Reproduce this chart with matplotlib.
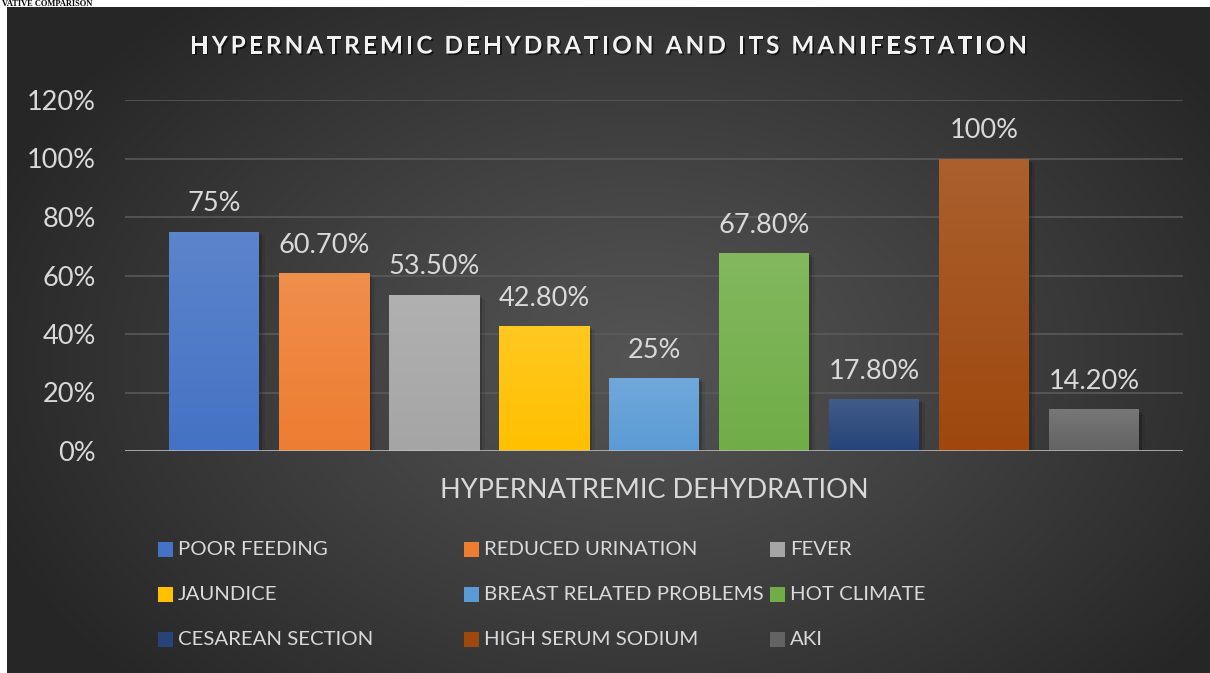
import numpy as np
import matplotlib
matplotlib.use("Agg")
import matplotlib.pyplot as plt
import matplotlib.patheffects as pe
from matplotlib.colors import to_rgb
from matplotlib.font_manager import FontProperties

# ---------------- data ----------------
categories = ["POOR FEEDING", "REDUCED URINATION", "FEVER", "JAUNDICE",
              "BREAST RELATED PROBLEMS", "HOT CLIMATE", "CESAREAN SECTION",
              "HIGH SERUM SODIUM", "AKI"]
values = [0.75, 0.607, 0.535, 0.428, 0.25, 0.678, 0.178, 1.00, 0.142]
value_labels = ["75%", "60.70%", "53.50%", "42.80%", "25%", "67.80%",
                "17.80%", "100%", "14.20%"]
colors = ["#4472C4", "#ED7D31", "#A5A5A5", "#FFC000", "#5B9BD5",
          "#70AD47", "#264478", "#9E480E", "#636363"]
y_ticks = [0, 0.2, 0.4, 0.6, 0.8, 1.0, 1.2]
y_tick_labels = ["0%", "20%", "40%", "60%", "80%", "100%", "120%"]
title = "HYPERNATREMIC DEHYDRATION AND ITS MANIFESTATION"
x_label = "HYPERNATREMIC DEHYDRATION"
top_note = "VATIVE COMPARISON"

W, H = 1210, 673
FONT = "Lato"
TXT = "#D9D9D9"

fig = plt.figure(figsize=(W / 100, H / 100), dpi=100, facecolor="white")

def fx(px):
    return px / W

def fy(py):
    return 1 - py / H

# ---------------- background panel with radial gradient ----------------
px0, py0 = 7, 7
bg = fig.add_axes([fx(px0), 0, 1 - fx(px0), fy(py0)], zorder=-10)
bw, bh = W - px0, H - py0
yy, xx = np.mgrid[0:bh, 0:bw]
cx, cy = 640 - px0, 360 - py0
r = np.sqrt(((xx - cx) / 700.0) ** 2 + ((yy - cy) / 480.0) ** 2)
r = np.clip(r, 0, 1)
c_in = np.array(to_rgb("#545454"))
c_out = np.array(to_rgb("#262626"))
img = c_in[None, None, :] + (c_out - c_in)[None, None, :] * r[..., None] ** 1.1
bg.imshow(img, aspect="auto", extent=(0, 1, 0, 1), interpolation="bilinear")
bg.set_axis_off()

# ---------------- main axes ----------------
ax_l, ax_r, ax_t, ax_b = 125, 1183, 100, 451
ax = fig.add_axes([fx(ax_l), fy(ax_b), fx(ax_r - ax_l), (ax_b - ax_t) / H])
ax.set_facecolor("none")
n = len(values)
xpos = np.arange(n)
bar_w = 90 / 110
half_span = (ax_r - ax_l) / 2 / 110

bars = ax.bar(xpos, values, width=bar_w, color=colors, zorder=3,
              path_effects=[pe.SimplePatchShadow(offset=(2.5, -1.5), shadow_rgbFace="black", alpha=0.18),
                            pe.SimplePatchShadow(offset=(4, -3), shadow_rgbFace="black", alpha=0.08),
                            pe.Normal()])

def lighten(c, f):
    c = np.array(to_rgb(c))
    return c + (1 - c) * f

for b, c, v in zip(bars, colors, values):
    top = lighten(c, 0.13)
    base = np.array(to_rgb(c))
    grad = np.linspace(0, 1, 64)[:, None, None]
    gimg = top[None, None, :] * (1 - grad) + base[None, None, :] * grad
    gimg = np.repeat(gimg, 2, axis=1)
    im = ax.imshow(gimg, extent=(b.get_x(), b.get_x() + b.get_width(), 0, v),
                   aspect="auto", zorder=3.5, interpolation="bilinear")
    im.set_clip_path(b)

ax.set_xlim((n - 1) / 2 - half_span, (n - 1) / 2 + half_span)
ax.set_ylim(0, 1.2)

for xi, v, lab in zip(xpos, values, value_labels):
    ax.annotate(lab, (xi, v), xytext=(0, 14.5), textcoords="offset points",
                ha="center", va="baseline", fontsize=19.5, family=FONT,
                color=TXT, zorder=5)

ax.set_yticks(y_ticks)
ax.set_yticklabels(y_tick_labels, fontsize=19.5, family=FONT, color=TXT)
ax.tick_params(axis="y", length=0, pad=21)
ax.set_xticks([])
for s in ax.spines.values():
    s.set_visible(False)
ax.grid(axis="y", color="#5C5C5C", lw=1.1, zorder=1)
ax.axhline(0, color="#BFBFBF", lw=1.8, zorder=4)

# ---------------- x axis title ----------------
fig.text(fx(654), fy(491), x_label, ha="center", va="center",
         fontsize=19.5, family=FONT, color=TXT)

# ---------------- title (letter-spaced, shadowed) ----------------
renderer = fig.canvas.get_renderer()
tfp = FontProperties(family=FONT, weight="bold", size=17.5)

def char_w(ch):
    if ch == " ":
        w, _, _ = renderer.get_text_width_height_descent("a a", tfp, ismath=False)
        w2, _, _ = renderer.get_text_width_height_descent("aa", tfp, ismath=False)
        return w - w2
    w, _, _ = renderer.get_text_width_height_descent(ch, tfp, ismath=False)
    return w

cw = [char_w(ch) for ch in title]
t_left, t_right = 190, 1027
spacing = ((t_right - t_left) - sum(cw)) / (len(title) - 1)
xcur = t_left
for ch, w in zip(title, cw):
    if ch != " ":
        fig.text(fx(xcur), fy(46), ch, ha="left", va="center",
                 fontproperties=tfp, color="#F2F2F2",
                 path_effects=[pe.withSimplePatchShadow(offset=(1.2, -1.2),
                                                        shadow_rgbFace="black",
                                                        alpha=0.6)])
    xcur += w + spacing

# ---------------- legend (3 columns, row-major) ----------------
col_x = [158, 464, 770]
row_y = [549.5, 594.5, 639.5]
sq = 15
for i, (cat, c) in enumerate(zip(categories, colors)):
    rr, cc = divmod(i, 3)
    x0 = col_x[cc]
    y0 = row_y[rr]
    fig.patches.append(plt.Rectangle((fx(x0), fy(y0 + sq / 2)), sq / W, sq / H,
                                     transform=fig.transFigure, facecolor=c,
                                     edgecolor="none", figure=fig))
    fig.text(fx(x0 + sq + 5), fy(y0), cat, ha="left", va="center",
             fontsize=14.7, family=FONT, color=TXT)

# ---------------- small heading above the chart ----------------
fig.text(fx(2), fy(5.5), top_note, ha="left", va="baseline",
         fontsize=6, family="Liberation Serif", weight="bold", color="black",
         zorder=-20)

fig.savefig("out.png", dpi=100, facecolor="white")
